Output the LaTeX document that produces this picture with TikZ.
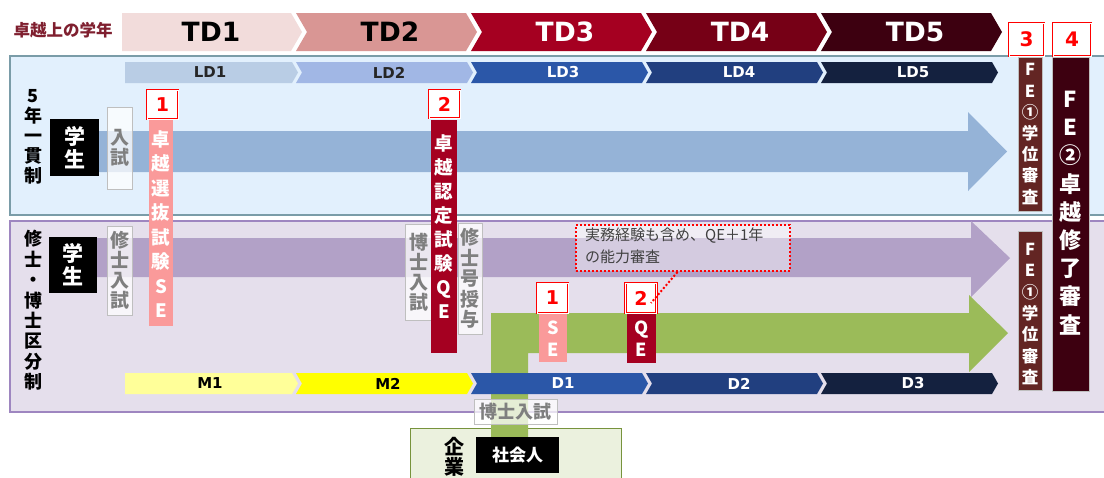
\documentclass[tikz,border=0pt]{standalone}
\usepackage{fontspec}
\setmainfont{Noto Sans CJK JP}
\newfontfamily\lat{DejaVu Sans}
\definecolor{tdA}{HTML}{F2DCDB}
\definecolor{tdB}{HTML}{D99694}
\definecolor{tdC}{HTML}{A50021}
\definecolor{tdD}{HTML}{760016}
\definecolor{tdE}{HTML}{3D0010}
\definecolor{ldA}{HTML}{B9CDE5}
\definecolor{ldB}{HTML}{A1B7E5}
\definecolor{ldC}{HTML}{2B57A8}
\definecolor{ldD}{HTML}{213F7F}
\definecolor{ldE}{HTML}{14213F}
\definecolor{mA}{HTML}{FFFF99}
\definecolor{mB}{HTML}{FFFF00}
\definecolor{bpanel}{HTML}{E2F0FD}
\definecolor{bpanelB}{HTML}{7A9CA8}
\definecolor{ppanel}{HTML}{E5DFEC}
\definecolor{ppanelB}{HTML}{9E86C0}
\definecolor{barrow}{HTML}{95B3D7}
\definecolor{parrow}{HTML}{B2A1C7}
\definecolor{garrow}{HTML}{9BBB59}
\definecolor{pinkc}{HTML}{FA9A9A}
\definecolor{crim}{HTML}{A50021}
\definecolor{fethree}{HTML}{632523}
\definecolor{fefour}{HTML}{3D0010}
\definecolor{titlec}{HTML}{7F1F2F}
\definecolor{graytxt}{HTML}{7F7F7F}
\definecolor{grayline}{HTML}{BFBFBF}
\definecolor{ntext}{HTML}{404040}
\definecolor{kigyo}{HTML}{EBF1DE}
\definecolor{kigyoB}{HTML}{77933C}
\definecolor{ldtxt}{HTML}{262626}
\newcommand\hplate[6]{\fill[#6] (#1,#3) -- ({#2-#5},#3) -- (#2,{(#3+#4)/2}) -- ({#2-#5},#4) -- (#1,#4) -- cycle;}
\newcommand\chevr[6]{\fill[#6] (#1,#3) -- ({#2-#5},#3) -- (#2,{(#3+#4)/2}) -- ({#2-#5},#4) -- (#1,#4) -- ({#1+#5},{(#3+#4)/2}) -- cycle;}
\begin{document}
\begin{tikzpicture}[x=1pt,y=-1pt,
  tdtxt/.style={inner sep=0pt,font=\lat\bfseries\fontsize{26.5}{28}\selectfont},
  ldtext/.style={inner sep=0pt,font=\lat\bfseries\fontsize{15}{16}\selectfont},
  numbox/.style={draw=red,double=white,double distance=0.9pt,line width=0.9pt,fill=white,text=red,inner sep=0pt,font=\lat\bfseries\fontsize{19}{19}\selectfont},
  gbox/.style={draw=grayline,line width=0.8pt,fill=white,fill opacity=0.75,text opacity=1,text=graytxt,inner sep=0pt,align=center},
  vtxt/.style={inner sep=0pt,align=center},
  blackbox/.style={fill=black,text=white,inner sep=0pt,align=center}]
\useasboundingbox (0,0) rectangle (1104,477);
\clip (0,0) rectangle (1104,477);
\fill[white] (0,0) rectangle (1104,477);

% panels
\draw[draw=bpanelB,line width=1.5pt,fill=bpanel] (10,56) rectangle (1110,215);
\draw[draw=ppanelB,line width=1.2pt,fill=ppanel] (10,221) rectangle (1110,412);

% title
\node[inner sep=0pt,text=titlec,font=\bfseries\fontsize{16.5}{18}\selectfont] (title) at (63,30) {卓越上の学年};

% TD chevrons
\hplate{122}{302}{13}{51}{11}{tdA}
\chevr{296}{477}{13}{51}{11}{tdB}
\chevr{471}{652}{13}{51}{11}{tdC}
\chevr{646}{827}{13}{51}{11}{tdD}
\chevr{821}{1002}{13}{51}{11}{tdE}
\node[tdtxt,text=black] (td1) at (211,32) {TD1};
\node[tdtxt,text=black] (td2) at (390,32) {TD2};
\node[tdtxt,text=white] (td3) at (565,32) {TD3};
\node[tdtxt,text=white] (td4) at (740,32) {TD4};
\node[tdtxt,text=white] (td5) at (915,32) {TD5};

% LD chevrons
\hplate{125}{298}{62}{83}{6}{ldA}
\chevr{296}{473}{62}{83}{6}{ldB}
\chevr{471}{648}{62}{83}{6}{ldC}
\chevr{646}{823}{62}{83}{6}{ldD}
\chevr{821}{998}{62}{83}{6}{ldE}
\node[ldtext,text=ldtxt] (ld1) at (210,72.5) {LD1};
\node[ldtext,text=ldtxt] (ld2) at (389,72.5) {LD2};
\node[ldtext,text=white] (ld3) at (563,72.5) {LD3};
\node[ldtext,text=white] (ld4) at (739,72.5) {LD4};
\node[ldtext,text=white] (ld5) at (913,72.5) {LD5};

% company box (under green arrow)
\draw[draw=kigyoB,line width=1pt,fill=kigyo] (410,428) rectangle (621,485);

% arrows
\fill[barrow] (99,131) -- (968,131) -- (968,112) -- (1007,151.5) -- (968,191) -- (968,172) -- (99,172) -- cycle;
\fill[parrow] (97,238) -- (971,238) -- (971,221) -- (1010,258) -- (971,297) -- (971,277) -- (97,277) -- cycle;
\fill[garrow] (491,442) -- (491,313) -- (969,313) -- (969,295) -- (1008,333) -- (969,372) -- (969,353) -- (528,353) -- (528,442) -- cycle;

% M / D chevrons
\hplate{125}{298}{373}{394}{6}{mA}
\chevr{296}{473}{373}{394}{6}{mB}
\chevr{471}{648}{373}{394}{6}{ldC}
\chevr{646}{823}{373}{394}{6}{ldD}
\chevr{821}{998}{373}{394}{6}{ldE}
\node[ldtext,text=black] (m1) at (210,383.5) {M1};
\node[ldtext,text=black] (m2) at (388,383.5) {M2};
\node[ldtext,text=white] (d1) at (563,383.5) {D1};
\node[ldtext,text=white] (d2) at (739,383.5) {D2};
\node[ldtext,text=white] (d3) at (913,383.5) {D3};

% left labels
\node[vtxt,font=\bfseries\fontsize{18}{20}\selectfont] (lab1) at (33,137) {5\\年\\一\\貫\\制};
\node[vtxt,font=\bfseries\fontsize{18}{20.4}\selectfont] (lab2) at (33,310.5) {修\\士\\・\\博\\士\\区\\分\\制};

% student boxes
\node[blackbox,minimum width=49pt,minimum height=57pt,font=\bfseries\fontsize{21}{23}\selectfont] (st1) at (74.5,147.5) {学\\生};
\node[blackbox,minimum width=48pt,minimum height=56pt,font=\bfseries\fontsize{21}{23}\selectfont] (st2) at (73,265) {学\\生};

% entrance exam boxes
\node[gbox,minimum width=25pt,minimum height=82pt,font=\bfseries\fontsize{19}{19.5}\selectfont] (ent1) at (119.5,148) {入\\試};
\node[gbox,minimum width=25pt,minimum height=89pt,font=\bfseries\fontsize{19}{20}\selectfont] (ent2) at (119.5,270.5) {修\\士\\入\\試};
\node[gbox,minimum width=28pt,minimum height=96pt,font=\bfseries\fontsize{19}{20}\selectfont] (ent3) at (419,272) {博\\士\\入\\試};
\node[gbox,minimum width=24pt,minimum height=111pt,font=\bfseries\fontsize{19}{20.5}\selectfont] (deg) at (470,278.5) {修\\士\\号\\授\\与};

% column 1 (SE)
\fill[pinkc] (149,120) rectangle (173,326);
\node[vtxt,text=white,font=\bfseries\fontsize{18.5}{24.5}\selectfont] (c1t) at (161,224) {卓\\越\\選\\抜\\試\\験\\S\\E};
\node[numbox,minimum width=31pt,minimum height=29pt] (n1) at (162.5,104.5) {1};

% column 2 (QE)
\fill[crim] (431,120) rectangle (457,353);
\node[vtxt,text=white,font=\bfseries\fontsize{18.5}{24}\selectfont] (c2t) at (444,226.5) {卓\\越\\認\\定\\試\\験\\Q\\E};
\node[numbox,minimum width=31pt,minimum height=28pt] (n2) at (444.5,104) {2};

% small SE / QE
\fill[pinkc] (539,314) rectangle (567,362);
\node[vtxt,text=white,font=\bfseries\fontsize{18}{22}\selectfont] (set) at (553,339) {S\\E};
\node[numbox,minimum width=31pt,minimum height=30pt] (n1s) at (552.5,298) {1};
\fill[crim] (627,314) rectangle (656,363);
\node[vtxt,text=white,font=\bfseries\fontsize{18}{22}\selectfont] (qet) at (641.5,338.5) {Q\\E};
\node[numbox,minimum width=31pt,minimum height=30pt] (n2s) at (641,298) {2};

% note
\node[draw=red,line width=2pt,dash pattern=on 2pt off 2pt,fill=white,fill opacity=0.45,minimum width=214pt,minimum height=46pt,inner sep=0pt] (note) at (682.5,248) {};
\node[anchor=west,align=left,inner sep=0pt,text=ntext,font=\fontsize{15}{22}\selectfont] (notet) at (585,246) {実務経験も含め、QE＋1年\\の能力審査};
\draw[red,line width=2pt,dash pattern=on 2pt off 2pt] ([xshift=-5pt]note.south) -- ([xshift=10pt,yshift=-5pt]n2s.center);

% FE columns
\node[fill=fethree,draw=grayline,line width=0.6pt,minimum width=24pt,minimum height=154pt,inner sep=0pt] (fe3a) at (1030,134) {};
\node[vtxt,text=white,font=\bfseries\fontsize{16.5}{21.2}\selectfont] (fe3at) at (1030,134) {F\\E\\①\\学\\位\\審\\査};
\node[fill=fethree,draw=grayline,line width=0.6pt,minimum width=24pt,minimum height=159pt,inner sep=0pt] (fe3b) at (1030,310.5) {};
\node[vtxt,text=white,font=\bfseries\fontsize{16.5}{21.3}\selectfont] (fe3bt) at (1030,314) {F\\E\\①\\学\\位\\審\\査};
\node[fill=fefour,draw=grayline,line width=0.6pt,minimum width=37pt,minimum height=334pt,inner sep=0pt] (fe4) at (1070.5,224) {};
\node[vtxt,text=white,font=\bfseries\fontsize{22}{28.2}\selectfont] (fe4t) at (1070.5,213) {F\\E\\②\\卓\\越\\修\\了\\審\\査};
\node[numbox,minimum width=35pt,minimum height=33pt,font=\lat\bfseries\fontsize{20}{20}\selectfont] (n3) at (1026.5,39.5) {3};
\node[numbox,minimum width=38pt,minimum height=33pt,font=\lat\bfseries\fontsize{20}{20}\selectfont] (n4) at (1072,39.5) {4};

% company
\node[vtxt,font=\bfseries\fontsize{20}{20}\selectfont] (kig) at (454,457) {企\\業};
\node[blackbox,minimum width=83pt,minimum height=36pt,font=\bfseries\fontsize{17}{18}\selectfont] (shakai) at (517.5,455) {社会人};
\node[gbox,minimum width=83pt,minimum height=25pt,font=\bfseries\fontsize{18}{19}\selectfont] (ent4) at (515.5,411.5) {博士入試};
\end{tikzpicture}
\end{document}
